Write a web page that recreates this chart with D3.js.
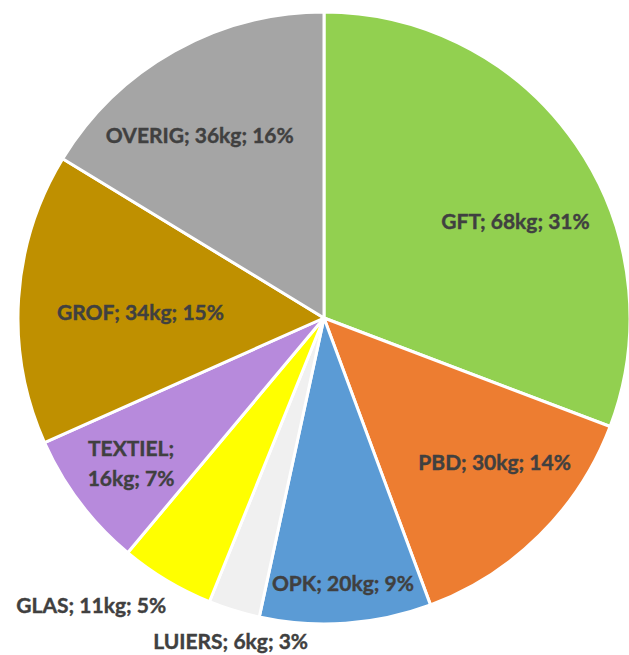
<!DOCTYPE html>
<html>
<head>
<meta charset="utf-8">
<script src="https://cdn.jsdelivr.net/npm/d3@7"></script>
<style>
  body { margin: 0; background: #fff; }
  .lbl { font-family: Lato, "Open Sans", sans-serif; font-weight: bold; font-size: 21px; fill: #404040; stroke: #404040; stroke-width: 0.4px; }
</style>
</head>
<body>
<div id="chart"></div>
<script>
// chart data
const categories = ["GFT", "PBD", "OPK", "LUIERS", "GLAS", "TEXTIEL", "GROF", "OVERIG"];
const weights = [68, 30, 20, 6, 11, 16, 34, 36];
const percents = [31, 14, 9, 3, 5, 7, 15, 16];
const colors = ["#92D050", "#ED7D31", "#5B9BD5", "#F0F0F0", "#FFFF00", "#B78ADC", "#BF9000", "#A5A5A5"];

// label placement (fraction of radius, angle nudge in degrees)
const labelR = [0.70, 0.73, 0.87, 1.10, 1.21, 0.79, 0.60, 0.72];
const labelNudge = [8, -5, 0, -1, 8, 0, -2, -5];

const width = 629, height = 655;
const cx = 324, cy = 318, radius = 306;

const svg = d3.select("#chart").append("svg")
    .attr("width", width)
    .attr("height", height)
  .append("g")
    .attr("transform", `translate(${cx},${cy})`);

const data = categories.map((c, i) => ({ name: c, kg: weights[i], pct: percents[i], i }));

const pie = d3.pie().value(d => d.kg).sort(null);
const arc = d3.arc().innerRadius(0).outerRadius(radius);
const arcs = pie(data);

svg.selectAll("path")
    .data(arcs)
  .enter().append("path")
    .attr("d", arc)
    .attr("fill", d => colors[d.data.i])
    .attr("stroke", "#fff")
    .attr("stroke-width", 3)
    .attr("stroke-linejoin", "round");

const labels = svg.selectAll(".lbl")
    .data(arcs)
  .enter().append("text")
    .attr("class", "lbl")
    .attr("text-anchor", "middle")
    .attr("transform", d => {
        const a = (d.startAngle + d.endAngle) / 2 + labelNudge[d.data.i] * Math.PI / 180;
        const r = radius * labelR[d.data.i];
        return `translate(${r * Math.sin(a)},${-r * Math.cos(a)})`;
    });

labels.each(function(d) {
    const t = d3.select(this);
    const lines = d.data.name === "TEXTIEL"
        ? [d.data.name + ";", `${d.data.kg}kg; ${d.data.pct}%`]
        : [`${d.data.name}; ${d.data.kg}kg; ${d.data.pct}%`];
    const lh = 30;
    const y0 = -(lines.length - 1) * lh / 2;
    lines.forEach((s, k) => {
        t.append("tspan")
            .attr("x", 0)
            .attr("y", y0 + k * lh)
            .attr("dy", "0.35em")
            .text(s);
    });
});
</script>
</body>
</html>
